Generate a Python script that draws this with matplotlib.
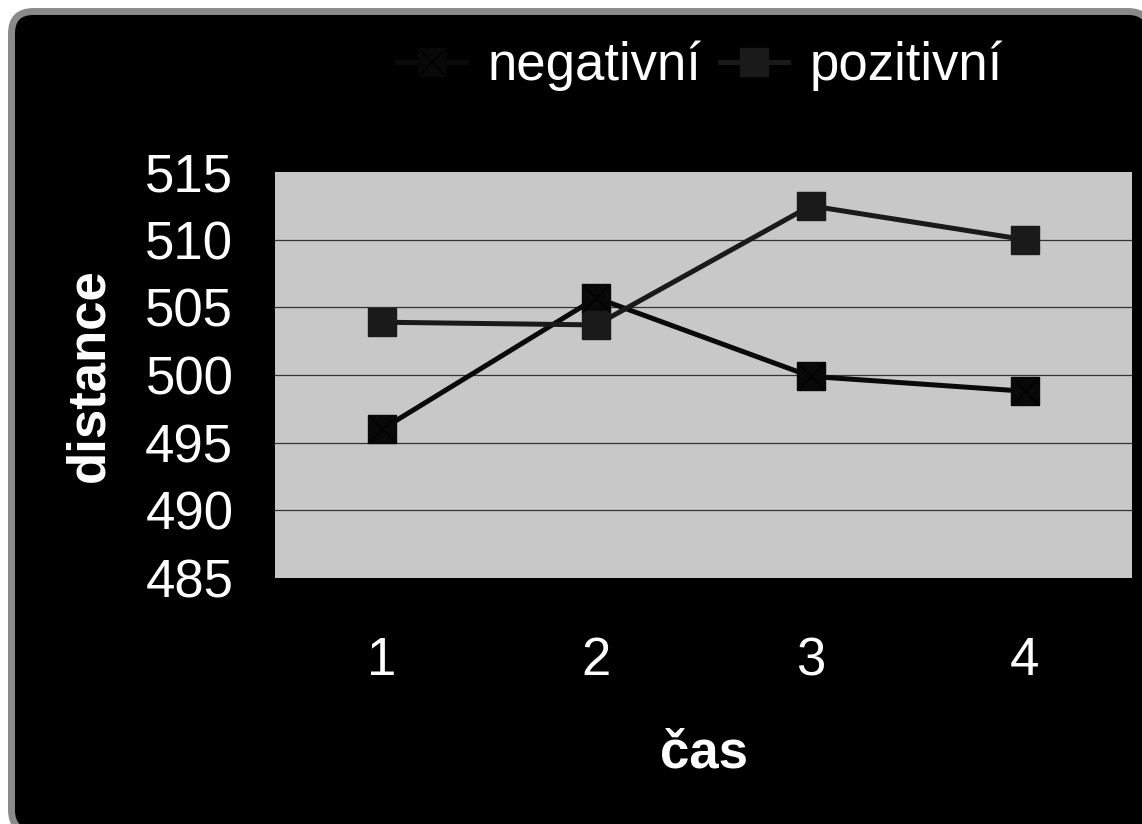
import matplotlib
matplotlib.use("Agg")
import matplotlib.pyplot as plt
from matplotlib.patches import FancyBboxPatch
from matplotlib.transforms import IdentityTransform
from matplotlib.legend_handler import HandlerTuple

plt.rcParams['font.family'] = ['Liberation Sans', 'DejaVu Sans']

categories = [1, 2, 3, 4]
tick_labels = ["1", "2", "3", "4"]
negativni = [496.0, 505.7, 499.9, 498.8]
pozitivni = [503.9, 503.7, 512.5, 510.0]
yticks = [485, 490, 495, 500, 505, 510, 515]

W, H = 1142, 824
fig = plt.figure(figsize=(W / 100, H / 100), dpi=100, facecolor='white')

# rounded black chart background with gray border
bg = FancyBboxPatch((11.5 + 22, -8 + 22), 1150 - 11.5 - 44, 812.5 + 8 - 44,
                    boxstyle="round,pad=22", transform=IdentityTransform(),
                    facecolor='black', edgecolor='#8a8a8a', linewidth=5,
                    zorder=-10)
fig.patches.append(bg)

ax = fig.add_axes([275 / W, 1 - 578 / H, (1132 - 275) / W, (578 - 172) / H])
ax.set_facecolor('#c8c8c8')
for s in ax.spines.values():
    s.set_visible(False)

ax.set_xlim(0.5, 4.5)
ax.set_ylim(485, 515)
ax.set_yticks(yticks)
ax.set_xticks(categories)
ax.set_xticklabels(tick_labels)
ax.tick_params(axis='both', length=0, labelsize=38, colors='white')
ax.tick_params(axis='y', pad=30)
ax.tick_params(axis='x', pad=42)
for y in yticks[1:-1]:
    ax.axhline(y, color='#333333', linewidth=0.9, zorder=1)

ms = 20.5
l1, = ax.plot(categories, negativni, color='#0a0a0a', linewidth=3.6,
              marker='s', markersize=ms, markerfacecolor='#080808',
              markeredgecolor='#080808', zorder=3)
x1, = ax.plot(categories, negativni, linestyle='none', marker='x',
              markersize=ms, markeredgecolor='black', markeredgewidth=1.0,
              zorder=4)
l2, = ax.plot(categories, pozitivni, color='#1a1a1a', linewidth=3.6,
              marker='s', markersize=ms, markerfacecolor='#1a1a1a',
              markeredgecolor='#1a1a1a', zorder=3)

ax.set_xlabel('čas', fontsize=38, fontweight='bold', color='white', labelpad=30)
ax.set_ylabel('distance', fontsize=38, fontweight='bold', color='white', labelpad=22)

leg = fig.legend([(l1, x1), l2], ['negativní', 'pozitivní'],
                 handler_map={tuple: HandlerTuple(ndivide=1, pad=0)},
                 loc='center', bbox_to_anchor=(700 / W, 1 - 66 / H),
                 ncol=2, frameon=False, fontsize=38, labelcolor='white',
                 handlelength=1.3, handletextpad=0.4, columnspacing=0.35)

fig.savefig('out.png', dpi=100, facecolor='white')
